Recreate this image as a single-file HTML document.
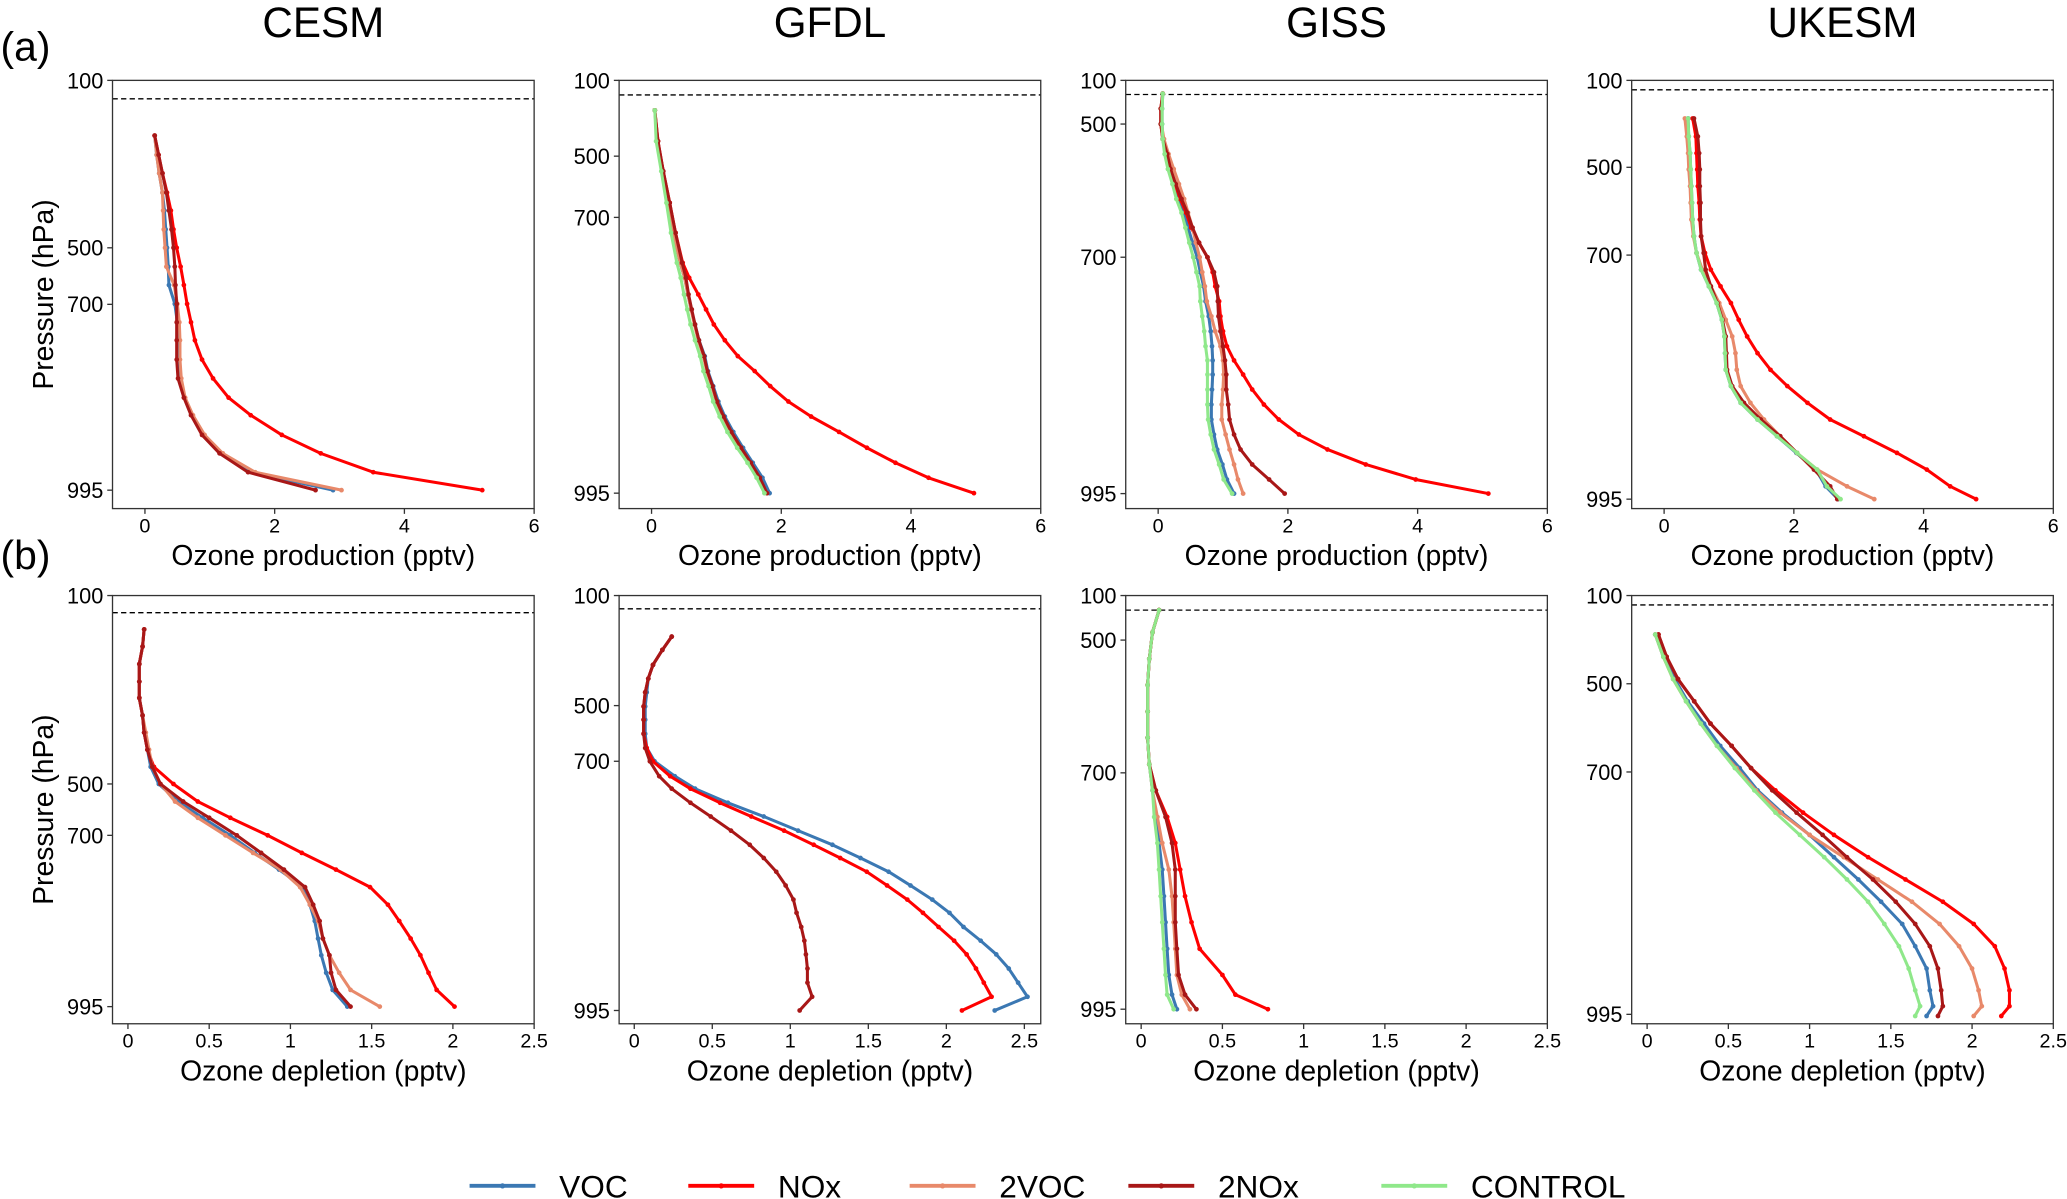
<!DOCTYPE html>
<html><head><meta charset="utf-8"><style>
html,body{margin:0;padding:0;background:#fff;}
svg{display:block;}
text{font-family:"Liberation Sans",Arial,sans-serif;fill:#000;}
</style></head><body>
<svg id="fig" width="2067" height="1199" viewBox="0 0 1568 910" xmlns="http://www.w3.org/2000/svg"></svg>
<script>
// ---- series colours ----
const seriesNames = ["VOC","NOx","2VOC","2NOx","CONTROL"];
const seriesColors = {"VOC":"#3b78b3","NOx":"#ff0000","2VOC":"#e8896a","2NOx":"#a81717","CONTROL":"#8fe88a"};
const drawOrder = ["VOC","NOx","2VOC","2NOx","CONTROL"];

// ---- axis ticks ----
const prodTicks = [0,2,4,6];
const deplTicks = [0,0.5,1,1.5,2,2.5];
const pressureLabels = [100,500,700,995];
const prodDomain = [-0.5,6];
const deplDomain = [-0.095,2.5];
const gfdlDeplDomain = [-0.097,2.605];

// ---- y tick positions in normalised model-level units (0 top, 100 bottom) ----
const cesmA_yticks = [0,39.1,52.3,95.7];
const gfdlA_yticks = [0,17.7,32.0,96.4];
const gissA_yticks = [0,10.2,41.3,96.5];
const ukesmA_yticks = [0,20.3,40.8,97.8];
const cesmB_yticks = [0,44.0,56.0,96.0];
const gfdlB_yticks = [0,25.7,38.7,96.9];
const gissB_yticks = [0,10.4,41.4,96.6];
const ukesmB_yticks = [0,20.6,41.2,97.8];
const tropopause = [4.3,3.4,3.3,2.2,4.0,3.1,3.4,2.2];

// ---- CESM (a) ----
const cesmA_lev = [12.9,17.4,21.7,26.2,30.4,34.8,39.1,43.5,47.8,52.2,56.5,60.7,65.2,69.6,74.1,78.2,82.8,87.1,91.5,95.7];
const cesmA_NOx = [0.15,0.21,0.27,0.34,0.40,0.44,0.49,0.55,0.60,0.65,0.71,0.77,0.88,1.05,1.29,1.63,2.11,2.71,3.52,5.20];
const cesmA_2NOx = [0.15,0.21,0.27,0.33,0.37,0.41,0.44,0.46,0.47,0.49,0.49,0.49,0.49,0.51,0.60,0.71,0.88,1.15,1.59,2.63];
const cesmA_2VOC = [0.15,0.18,0.22,0.27,0.28,0.29,0.31,0.33,0.45,0.50,0.53,0.54,0.54,0.56,0.62,0.74,0.92,1.20,1.70,3.03];
const cesmA_VOC = [0.15,0.18,0.22,0.27,0.30,0.32,0.34,0.36,0.37,0.46,0.50,0.52,0.52,0.54,0.61,0.73,0.90,1.17,1.65,2.90];
const cesmA_CONTROL = [];

// ---- GFDL (a) ----
const gfdlA_lev = [7.0,14.2,21.2,28.6,35.6,42.6,46.1,50.0,53.5,57.0,60.7,64.4,67.9,71.4,75.0,78.5,82.1,85.8,89.3,92.8,96.4];
const gfdlA_NOx = [0.05,0.10,0.18,0.28,0.37,0.48,0.58,0.72,0.84,0.96,1.13,1.33,1.59,1.83,2.11,2.46,2.89,3.32,3.76,4.27,4.97];
const gfdlA_VOC = [0.05,0.09,0.18,0.26,0.34,0.44,0.51,0.56,0.61,0.67,0.73,0.82,0.87,0.95,1.03,1.13,1.26,1.41,1.56,1.71,1.82];
const gfdlA_2NOx = [0.05,0.10,0.18,0.28,0.37,0.47,0.53,0.57,0.62,0.67,0.73,0.81,0.86,0.94,1.01,1.11,1.23,1.38,1.53,1.67,1.78];
const gfdlA_2VOC = [0.05,0.09,0.17,0.26,0.34,0.44,0.51,0.56,0.61,0.66,0.72,0.80,0.85,0.93,1.00,1.10,1.22,1.37,1.52,1.66,1.78];
const gfdlA_CONTROL = [0.05,0.07,0.15,0.23,0.30,0.39,0.45,0.50,0.55,0.60,0.67,0.75,0.80,0.88,0.95,1.05,1.17,1.32,1.48,1.62,1.74];

// ---- GISS (a) ----
const gissA_lev = [3.1,6.6,10.2,13.7,17.2,20.7,24.2,27.7,30.9,34.4,37.9,41.3,44.8,48.1,51.6,55.1,58.6,62.1,65.4,68.7,72.2,75.7,79.2,82.7,86.2,89.7,93.2,96.5];
const gissA_CONTROL = [0.07,0.06,0.06,0.07,0.10,0.15,0.22,0.28,0.36,0.42,0.48,0.54,0.59,0.64,0.65,0.68,0.71,0.73,0.76,0.76,0.76,0.76,0.77,0.81,0.86,0.94,1.01,1.14];
const gissA_VOC = [0.07,0.06,0.06,0.07,0.11,0.17,0.24,0.32,0.40,0.46,0.53,0.60,0.65,0.70,0.73,0.78,0.81,0.83,0.84,0.84,0.83,0.82,0.82,0.86,0.91,0.99,1.06,1.17];
const gissA_2VOC = [0.07,0.05,0.05,0.09,0.16,0.24,0.32,0.40,0.46,0.53,0.58,0.64,0.68,0.72,0.75,0.82,0.88,0.96,1.00,1.01,1.00,0.98,0.98,1.04,1.10,1.17,1.23,1.31];
const gissA_2NOx = [0.07,0.04,0.04,0.07,0.14,0.19,0.27,0.36,0.45,0.53,0.63,0.76,0.86,0.91,0.92,0.93,0.96,1.00,1.03,1.05,1.05,1.08,1.10,1.17,1.27,1.45,1.71,1.95];
const gissA_NOx = [0.07,0.04,0.04,0.07,0.12,0.17,0.26,0.34,0.43,0.51,0.63,0.76,0.84,0.88,0.94,0.96,1.00,1.06,1.17,1.31,1.45,1.63,1.86,2.17,2.61,3.20,3.97,5.09];

// ---- UKESM (a) ----
const ukesmA_lev = [8.9,13.1,17.0,20.8,24.7,28.6,32.5,36.4,40.3,44.2,48.1,52.0,55.9,59.8,63.7,67.6,71.4,75.3,79.2,83.1,87.0,90.9,94.8,97.8];
const ukesmA_NOx = [0.44,0.49,0.50,0.51,0.52,0.54,0.55,0.57,0.63,0.72,0.87,1.03,1.15,1.28,1.44,1.64,1.90,2.21,2.56,3.08,3.59,4.05,4.41,4.81];
const ukesmA_2NOx = [0.46,0.52,0.54,0.55,0.55,0.56,0.56,0.57,0.61,0.64,0.72,0.82,0.90,0.95,0.96,0.97,1.05,1.23,1.49,1.79,2.05,2.31,2.56,2.67];
const ukesmA_2VOC = [0.32,0.35,0.37,0.38,0.40,0.41,0.42,0.45,0.50,0.59,0.72,0.85,0.95,1.05,1.10,1.12,1.18,1.33,1.54,1.79,2.05,2.36,2.82,3.24];
const ukesmA_VOC = [0.37,0.38,0.40,0.41,0.42,0.43,0.44,0.46,0.50,0.57,0.69,0.81,0.89,0.93,0.94,0.95,1.03,1.18,1.44,1.74,2.04,2.34,2.49,2.68];
const ukesmA_CONTROL = [0.37,0.38,0.40,0.41,0.42,0.43,0.44,0.46,0.50,0.57,0.69,0.81,0.89,0.93,0.94,0.95,1.03,1.18,1.44,1.74,2.05,2.36,2.51,2.72];

// ---- CESM (b) ----
const cesmB_lev = [7.9,11.9,16.0,20.1,23.9,28.0,32.0,36.0,40.0,44.0,48.1,51.9,56.0,60.1,64.0,68.1,72.2,76.0,80.1,84.0,88.1,92.1,96.0];
const cesmB_VOC = [0.10,0.09,0.07,0.07,0.07,0.09,0.10,0.12,0.14,0.19,0.31,0.46,0.63,0.78,0.93,1.08,1.12,1.15,1.17,1.19,1.22,1.26,1.35];
const cesmB_2VOC = [0.10,0.09,0.07,0.07,0.07,0.09,0.11,0.13,0.15,0.20,0.29,0.43,0.60,0.77,0.94,1.06,1.12,1.17,1.20,1.24,1.30,1.37,1.55];
const cesmB_2NOx = [0.10,0.09,0.07,0.07,0.07,0.09,0.10,0.12,0.15,0.20,0.34,0.50,0.67,0.82,0.96,1.09,1.14,1.18,1.20,1.24,1.25,1.28,1.37];
const cesmB_NOx = [0.10,0.09,0.07,0.07,0.07,0.09,0.10,0.12,0.16,0.28,0.43,0.63,0.86,1.07,1.28,1.49,1.60,1.67,1.74,1.80,1.85,1.90,2.01];
const cesmB_CONTROL = [];

// ---- GFDL (b) ----
const gfdlB_lev = [9.6,12.7,16.2,19.4,22.6,25.9,29.0,32.3,35.6,38.7,42.2,45.1,48.4,51.6,54.9,58.2,61.3,64.5,67.7,71.0,74.1,77.4,80.6,83.8,87.1,90.4,93.7,96.9];
const gfdlB_VOC = [0.24,0.18,0.12,0.09,0.08,0.07,0.07,0.07,0.08,0.13,0.26,0.39,0.60,0.83,1.05,1.27,1.45,1.63,1.77,1.91,2.02,2.11,2.22,2.32,2.40,2.46,2.52,2.31];
const gfdlB_NOx = [0.24,0.18,0.12,0.09,0.07,0.06,0.06,0.06,0.08,0.12,0.23,0.36,0.55,0.75,0.96,1.15,1.32,1.49,1.62,1.75,1.85,1.95,2.05,2.13,2.19,2.24,2.29,2.10];
const gfdlB_2NOx = [0.24,0.18,0.12,0.09,0.07,0.06,0.06,0.06,0.07,0.10,0.16,0.24,0.36,0.49,0.62,0.74,0.83,0.91,0.97,1.02,1.04,1.07,1.09,1.10,1.11,1.11,1.14,1.06];
const gfdlB_2VOC = [];
const gfdlB_CONTROL = [];

// ---- GISS (b) ----
const gissB_lev = [3.4,8.6,14.8,20.9,27.1,33.2,39.4,45.5,51.7,57.8,64.0,70.2,76.3,82.5,88.6,93.2,96.6];
const gissB_CONTROL = [0.11,0.07,0.05,0.04,0.04,0.04,0.05,0.07,0.08,0.10,0.11,0.12,0.13,0.14,0.15,0.16,0.20];
const gissB_VOC = [0.11,0.07,0.05,0.04,0.04,0.04,0.05,0.07,0.09,0.11,0.13,0.14,0.15,0.16,0.17,0.19,0.22];
const gissB_2VOC = [0.11,0.07,0.05,0.04,0.04,0.04,0.05,0.07,0.10,0.13,0.17,0.19,0.20,0.21,0.22,0.25,0.30];
const gissB_2NOx = [0.11,0.07,0.05,0.04,0.04,0.04,0.05,0.09,0.15,0.19,0.21,0.21,0.21,0.22,0.23,0.27,0.34];
const gissB_NOx = [0.11,0.07,0.05,0.04,0.04,0.04,0.05,0.09,0.16,0.21,0.24,0.27,0.31,0.36,0.50,0.58,0.78];

// ---- UKESM (b) ----
const ukesmB_lev = [9.1,14.3,19.5,24.7,29.9,35.1,40.3,45.5,50.7,55.9,61.1,66.3,71.5,76.7,81.9,87.1,92.2,95.9,98.2];
const ukesmB_CONTROL = [0.05,0.10,0.16,0.24,0.33,0.43,0.54,0.66,0.79,0.94,1.09,1.23,1.36,1.46,1.55,1.61,1.65,1.68,1.65];
const ukesmB_VOC = [0.05,0.10,0.17,0.25,0.35,0.45,0.57,0.68,0.83,1.00,1.15,1.30,1.44,1.57,1.65,1.72,1.74,1.76,1.72];
const ukesmB_2NOx = [0.07,0.12,0.19,0.29,0.39,0.52,0.64,0.77,0.92,1.08,1.23,1.39,1.53,1.65,1.74,1.79,1.81,1.82,1.79];
const ukesmB_2VOC = [0.05,0.10,0.16,0.24,0.33,0.43,0.55,0.67,0.82,1.00,1.21,1.42,1.63,1.80,1.92,2.00,2.04,2.06,2.01];
const ukesmB_NOx = [0.07,0.12,0.19,0.29,0.39,0.52,0.64,0.79,0.96,1.15,1.36,1.59,1.82,2.01,2.14,2.20,2.23,2.23,2.18];

const panels = [
 {id:"cesm-a",title:"CESM",row:0,col:0,dom:prodDomain,yt:cesmA_yticks,lev:cesmA_lev,s:{"VOC":cesmA_VOC,"NOx":cesmA_NOx,"2VOC":cesmA_2VOC,"2NOx":cesmA_2NOx,"CONTROL":cesmA_CONTROL}},
 {id:"gfdl-a",title:"GFDL",row:0,col:1,dom:prodDomain,yt:gfdlA_yticks,lev:gfdlA_lev,s:{"VOC":gfdlA_VOC,"NOx":gfdlA_NOx,"2VOC":gfdlA_2VOC,"2NOx":gfdlA_2NOx,"CONTROL":gfdlA_CONTROL}},
 {id:"giss-a",title:"GISS",row:0,col:2,dom:prodDomain,yt:gissA_yticks,lev:gissA_lev,s:{"VOC":gissA_VOC,"NOx":gissA_NOx,"2VOC":gissA_2VOC,"2NOx":gissA_2NOx,"CONTROL":gissA_CONTROL}},
 {id:"ukesm-a",title:"UKESM",row:0,col:3,dom:prodDomain,yt:ukesmA_yticks,lev:ukesmA_lev,s:{"VOC":ukesmA_VOC,"NOx":ukesmA_NOx,"2VOC":ukesmA_2VOC,"2NOx":ukesmA_2NOx,"CONTROL":ukesmA_CONTROL}},
 {id:"cesm-b",row:1,col:0,dom:deplDomain,yt:cesmB_yticks,lev:cesmB_lev,s:{"VOC":cesmB_VOC,"NOx":cesmB_NOx,"2VOC":cesmB_2VOC,"2NOx":cesmB_2NOx,"CONTROL":cesmB_CONTROL}},
 {id:"gfdl-b",row:1,col:1,dom:gfdlDeplDomain,yt:gfdlB_yticks,lev:gfdlB_lev,s:{"VOC":gfdlB_VOC,"NOx":gfdlB_NOx,"2VOC":gfdlB_2VOC,"2NOx":gfdlB_2NOx,"CONTROL":gfdlB_CONTROL}},
 {id:"giss-b",row:1,col:2,dom:deplDomain,yt:gissB_yticks,lev:gissB_lev,s:{"VOC":gissB_VOC,"NOx":gissB_NOx,"2VOC":gissB_2VOC,"2NOx":gissB_2NOx,"CONTROL":gissB_CONTROL}},
 {id:"ukesm-b",row:1,col:3,dom:deplDomain,yt:ukesmB_yticks,lev:ukesmB_lev,s:{"VOC":ukesmB_VOC,"NOx":ukesmB_NOx,"2VOC":ukesmB_2VOC,"2NOx":ukesmB_2NOx,"CONTROL":ukesmB_CONTROL}}
];

const NS="http://www.w3.org/2000/svg";
const svg=document.getElementById("fig");
function mk(tag,attrs,parent){const e=document.createElementNS(NS,tag);for(const k in attrs)e.setAttribute(k,attrs[k]);(parent||svg).appendChild(e);return e;}
const colX=[85,469.5,854,1238], W=320, rowY=[61,452], H=325;

panels.forEach((p,pi)=>{
  const g=mk("g",{});
  
  
  const x0=colX[p.col], y0=rowY[p.row];
  const dom = p.dom;
  const xs=v=>x0+(v-dom[0])/(dom[1]-dom[0])*W;
  const ys=l=>y0+l/100*H;
  const d=mk("line",{x1:x0,x2:x0+W,y1:ys(tropopause[pi]),y2:ys(tropopause[pi]),stroke:"#000","stroke-width":1,"stroke-dasharray":"4,2.5"},g);
  
  
  drawOrder.forEach(n=>{
    const vals=p.s[n]; if(!vals||!vals.length) return;
    const pts=vals.map((v,i)=>xs(v).toFixed(1)+","+ys(p.lev[i]).toFixed(1)).join(" ");
    const pl=mk("polyline",{points:pts,fill:"none",stroke:seriesColors[n],"stroke-width":2.3,"stroke-linejoin":"round"},g);
    
    
    vals.forEach((v,i)=>{mk("circle",{cx:xs(v),cy:ys(p.lev[i]),r:1.8,fill:seriesColors[n]},g);});
  });
  const fr=mk("rect",{x:x0,y:y0,width:W,height:H,fill:"none",stroke:"#333","stroke-width":1},g);
  
  
  const xt=p.row===0?prodTicks:deplTicks;
  xt.forEach(t=>{
    mk("line",{x1:xs(t),x2:xs(t),y1:y0+H,y2:y0+H+4,stroke:"#333","stroke-width":1},g);
    const tx=mk("text",{x:xs(t),y:y0+H+18,"text-anchor":"middle","font-size":15},g);
    tx.textContent=String(t);
    
    
  });
  const xl=mk("text",{x:x0+W/2,y:y0+H+43,"text-anchor":"middle","font-size":21.5},g);
  xl.textContent=p.row===0?"Ozone production (pptv)":"Ozone depletion (pptv)";
  
  
  p.yt.forEach((l,i)=>{
    mk("line",{x1:x0-4,x2:x0,y1:ys(l),y2:ys(l),stroke:"#333","stroke-width":1},g);
    const ty=mk("text",{x:x0-7,y:ys(l)+6,"text-anchor":"end","font-size":16.5},g);
    ty.textContent=String(pressureLabels[i]);
    
    
  });
  if(p.col===0){
    const yl=mk("text",{x:0,y:0,"text-anchor":"middle","font-size":21.5,transform:`translate(40,${y0+H/2}) rotate(-90)`},g);
    yl.textContent="Pressure (hPa)";
    
    
  }
  if(p.title){
    const tt=mk("text",{x:x0+W/2,y:28,"text-anchor":"middle","font-size":32},g);
    tt.textContent=p.title;
    
    
  }
});
[["(a)",46],["(b)",432]].forEach(([s,y])=>{
  const t=mk("text",{x:0,y:y,"font-size":31});
  t.textContent=s;
  
  
});
const legX=[356,522,690,856,1048];
seriesNames.forEach((n,i)=>{
  const g=mk("g",{});
  
  
  mk("line",{x1:legX[i],x2:legX[i]+50,y1:900,y2:900,stroke:seriesColors[n],"stroke-width":3},g);
  mk("circle",{cx:legX[i]+25,cy:900,r:2,fill:seriesColors[n]},g);
  const t=mk("text",{x:legX[i]+68,y:909,"font-size":24},g);
  t.textContent=n;
});
</script>
</body></html>
